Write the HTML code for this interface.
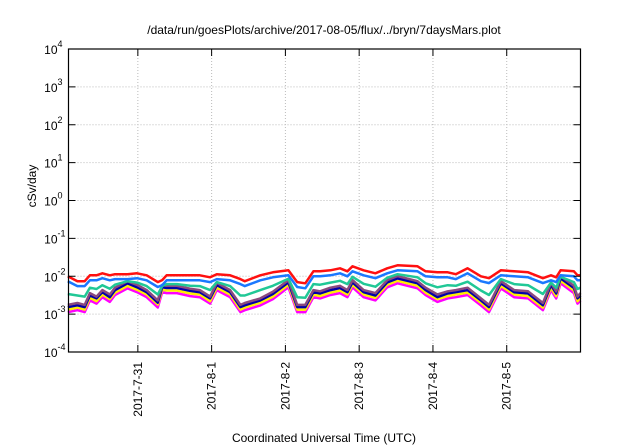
<!DOCTYPE html>
<html><head><meta charset="utf-8"><style>
body{margin:0;background:#fff}
svg{display:block;font-family:"Liberation Sans",sans-serif}
</style></head><body>
<svg id="chart" width="640" height="448" viewBox="0 0 640 448" xmlns="http://www.w3.org/2000/svg">
<rect width="640" height="448" fill="#fff"/>
<text x="324" y="34" font-size="12" text-anchor="middle">/data/run/goesPlots/archive/2017-08-05/flux/../bryn/7daysMars.plot</text>
<text transform="translate(36,186) rotate(-90)" font-size="12" text-anchor="middle">cSv/day</text>
<text x="324" y="442" font-size="12" text-anchor="middle">Coordinated Universal Time (UTC)</text>
<g id="grid"></g><g id="series"></g><g id="axes"></g>
</svg>
<script>
const times=[-0.95,-0.82,-0.72,-0.65,-0.56,-0.48,-0.38,-0.31,-0.14,-0.01,0.12,0.27,0.33,0.39,0.53,0.71,0.84,0.98,1.07,1.25,1.39,1.45,1.66,1.83,2.04,2.16,2.27,2.38,2.47,2.61,2.74,2.84,2.91,3.06,3.22,3.38,3.52,3.79,3.90,4.06,4.20,4.31,4.47,4.65,4.76,4.92,5.10,5.29,5.49,5.60,5.67,5.73,5.91,5.96,6.0];
const redVals=[.0100,.0074,.0074,.0106,.0106,.0120,.0106,.0113,.0113,.0120,.0106,.0070,.0079,.0106,.0106,.0106,.0106,.0094,.0113,.0106,.0084,.0074,.0106,.0127,.0144,.0070,.0065,.0135,.0135,.0144,.0162,.0135,.0183,.0144,.0120,.0162,.0195,.0183,.0135,.0127,.0127,.0113,.0162,.0100,.0089,.0144,.0135,.0127,.0089,.0106,.0094,.0144,.0135,.0106,.0106];
const azureVals=[.0074,.0055,.0055,.0078,.0078,.0089,.0078,.0084,.0084,.0089,.0078,.0052,.0058,.0078,.0078,.0078,.0078,.0070,.0084,.0078,.0062,.0055,.0078,.0094,.0106,.0052,.0048,.0100,.0100,.0106,.0120,.0100,.0135,.0106,.0089,.0120,.0144,.0135,.0100,.0094,.0094,.0084,.0120,.0074,.0066,.0106,.0100,.0094,.0066,.0078,.0070,.0106,.0100,.0078,.0078];
const greenVals=[.0034,.0031,.0029,.0050,.0046,.0058,.0047,.0060,.0074,.0068,.0055,.0033,.0055,.0062,.0062,.0056,.0055,.0043,.0070,.0055,.0031,.0031,.0043,.0056,.0086,.0028,.0027,.0062,.0060,.0068,.0076,.0062,.0097,.0063,.0053,.0091,.0113,.0094,.0065,.0051,.0058,.0056,.0072,.0042,.0032,.0084,.0062,.0058,.0034,.0068,.0050,.0097,.0070,.0046,.0050];
const purpleVals=[.00175,.00197,.00175,.0036,.0029,.0043,.0033,.0050,.0074,.0059,.0043,.0023,.0059,.0056,.0056,.0047,.0043,.0029,.0067,.0043,.00175,.00197,.0026,.0039,.0079,.00175,.00175,.0043,.0040,.0050,.0056,.0043,.0079,.0043,.0036,.0079,.0101,.0074,.0050,.0033,.0040,.0043,.0050,.0026,.00175,.0074,.0043,.0040,.00197,.0067,.0040,.0101,.0056,.0029,.0036];
const blueVals=[.00153,.00171,.00153,.0031,.0026,.0038,.0028,.0043,.0065,.0051,.0038,.0020,.0051,.0049,.0049,.0041,.0038,.0026,.0058,.0038,.00153,.00171,.0023,.0034,.0069,.00153,.00153,.0038,.0035,.0043,.0049,.0038,.0069,.0038,.0031,.0069,.0088,.0065,.0043,.0028,.0035,.0038,.0043,.0023,.00153,.0065,.0038,.0035,.00171,.0058,.0035,.0088,.0049,.0026,.0031];
const yellowVals=[.00132,.00149,.00132,.0027,.0022,.0033,.0025,.0037,.0056,.0044,.0033,.0018,.0044,.0042,.0042,.0035,.0033,.0022,.0050,.0033,.00132,.00149,.0020,.0029,.0060,.00132,.00132,.0033,.0030,.0037,.0042,.0033,.0060,.0033,.0027,.0060,.0076,.0056,.0037,.0025,.0030,.0033,.0037,.0020,.00132,.0056,.0033,.0030,.00149,.0050,.0030,.0076,.0042,.0022,.0027];
const magentaVals=[.00113,.00127,.00113,.0023,.0019,.0028,.0021,.0032,.0048,.0038,.0028,.0015,.0038,.0036,.0036,.0030,.0028,.0019,.0043,.0028,.00113,.00127,.0017,.0025,.0051,.00113,.00113,.0028,.0026,.0032,.0036,.0028,.0051,.0028,.0023,.0051,.0065,.0048,.0032,.0021,.0026,.0028,.0032,.0017,.00113,.0048,.0028,.0026,.00127,.0043,.0026,.0065,.0036,.0019,.0023];
const xTickDays=[0,1,2,3,4,5];
const xTickLabels=["2017-7-31","2017-8-1","2017-8-2","2017-8-3","2017-8-4","2017-8-5"];
const yTickExps=[-4,-3,-2,-1,0,1,2,3,4];

const L=68.5,R=580.5,T=49,B=352,xMin=-0.94,xMax=6.0;
const sx=d=>L+(d-xMin)/(xMax-xMin)*(R-L);
const sy=v=>B-(Math.log10(v)+4)/8*(B-T);
const NS="http://www.w3.org/2000/svg";
function mk(tag,parent,attrs){const e=document.createElementNS(NS,tag);for(const k in attrs)e.setAttribute(k,attrs[k]);parent.appendChild(e);return e;}
const grid=document.getElementById('grid'),axes=document.getElementById('axes'),ser=document.getElementById('series');

yTickExps.forEach(p=>{
  const y=sy(Math.pow(10,p));
  if(p>-4&&p<4){const g=mk('line',grid,{x1:L,x2:R,y1:y,y2:y,stroke:'#bbb','stroke-width':1,'stroke-dasharray':'1,2'});
  
  }
  const t1=mk('line',axes,{x1:L,x2:L+7,y1:y,y2:y,stroke:'#000','stroke-width':1});
  
  
  const t2=mk('line',axes,{x1:R-7,x2:R,y1:y,y2:y,stroke:'#000','stroke-width':1});
  
  
  const tx=mk('text',axes,{x:L-11,y:y+5,'font-size':12,'text-anchor':'end'});
  tx.textContent='10';
  
  
  const sup=mk('text',axes,{x:L-11,y:y-2,'font-size':9,'text-anchor':'start'});
  sup.textContent=String(p);
  
  
});
xTickDays.forEach((d,i)=>{
  const x=sx(d);
  const g=mk('line',grid,{x1:x,x2:x,y1:T,y2:B,stroke:'#bbb','stroke-width':1,'stroke-dasharray':'1,2'});
  
  
  const t1=mk('line',axes,{x1:x,x2:x,y1:B,y2:B-7,stroke:'#000','stroke-width':1});
  
  
  const t2=mk('line',axes,{x1:x,x2:x,y1:T,y2:T+7,stroke:'#000','stroke-width':1});
  
  
  const tx=mk('text',axes,{transform:`translate(${x+4},362) rotate(-90)`,'font-size':12,'text-anchor':'end'});
  tx.textContent=xTickLabels[i];
  
  
});
const fr=mk('rect',axes,{x:L,y:T,width:R-L,height:B-T,fill:'none',stroke:'#000','stroke-width':1.2});



const seriesList=[[magentaVals,'#ff00ff','series-magenta'],[yellowVals,'#ffee00','series-yellow'],[blueVals,'#0000aa','series-blue'],[purpleVals,'#8a4a7e','series-purple'],[greenVals,'#20c896','series-green'],[azureVals,'#1a78ff','series-azure'],[redVals,'#ff1010','series-red']];
seriesList.forEach(s=>{
  const d=s[0].map((v,i)=>(i?'L':'M')+sx(times[i]).toFixed(1)+','+sy(v).toFixed(1)).join('');
  const p=mk('path',ser,{d:d,fill:'none',stroke:s[1],'stroke-width':2.5,'stroke-linejoin':'round'});
  
  
});
</script>
</body></html>
